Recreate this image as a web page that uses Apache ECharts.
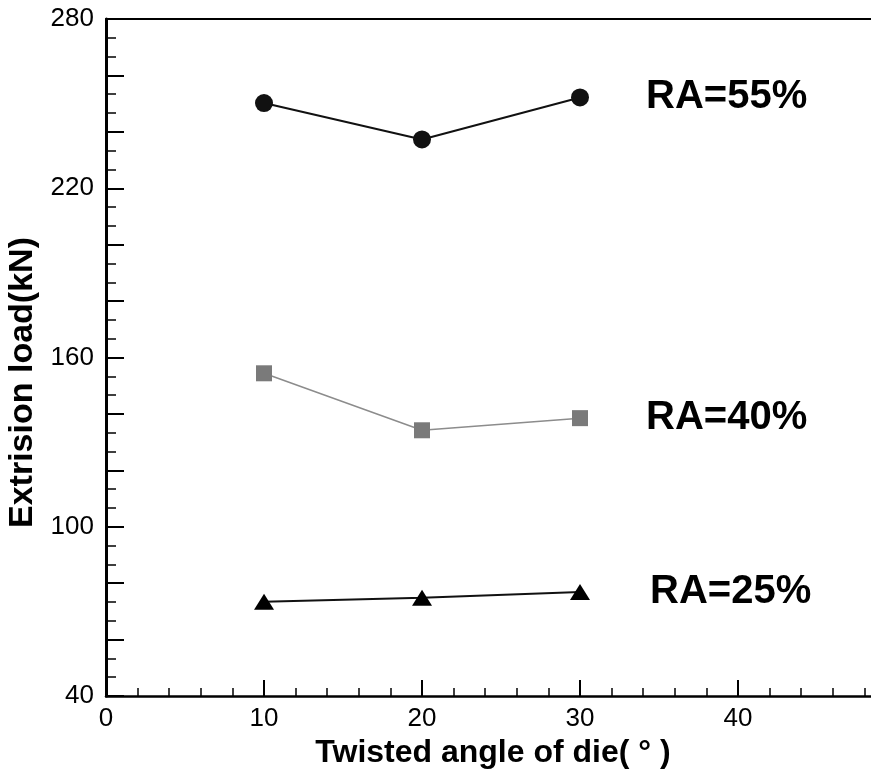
<!DOCTYPE html>
<html>
<head>
<meta charset="utf-8">
<script src="https://cdn.jsdelivr.net/npm/echarts@6/dist/echarts.min.js"></script>
<style>
  html, body { margin: 0; padding: 0; background: #fff; }
  #main { width: 871px; height: 773px; }
</style>
</head>
<body>
<div id="main"></div>
<script>
// twisted angle of die (deg)
var angles = [10, 20, 30];
// extrusion load (kN) for each reduction in area
var ra55 = [250.2, 237.3, 252.2];
var ra40 = [154.4, 134.2, 138.5];
var ra25 = [73.4, 74.8, 76.9];
// y labels shown on the axis
var yLabels = [40, 100, 160, 220, 280];

var FONT = '"Liberation Sans", Arial, sans-serif';

function pairs(ys) {
    return angles.map(function (a, i) { return [a, ys[i]]; });
}

var chart = echarts.init(document.getElementById('main'));

var endLbl = {
    show: true,
    formatter: '{a}',
    distance: 66,
    color: '#000',
    fontSize: 40,
    fontWeight: 'bold',
    fontFamily: FONT
};

option = {
    animation: false,
    backgroundColor: '#fff',
    grid: {
        left: 106,
        top: 19,
        right: -25,
        bottom: 77,
        outerBoundsMode: 'none'
    },
    xAxis: [
        {
            type: 'value',
            min: 0,
            max: 50,
            interval: 10,
            name: 'Twisted angle of die( ° )',
            nameLocation: 'middle',
            nameGap: 40,
            nameTextStyle: {
                color: '#000', fontSize: 32, fontWeight: 'bold', fontFamily: FONT,
                padding: [0, 16, 0, 0]
            },
            axisLine: { show: true, lineStyle: { color: '#000', width: 2.5 } },
            axisTick: { inside: true, length: 16, lineStyle: { color: '#000', width: 2 } },
            minorTick: { show: true, splitNumber: 5, length: 8, lineStyle: { color: '#000', width: 1.5 } },
            axisLabel: { color: '#000', fontSize: 26, fontFamily: FONT, margin: 10 },
            splitLine: { show: false }
        },
        {
            // top frame line
            type: 'value',
            position: 'top',
            min: 0,
            max: 50,
            axisLine: { show: true, lineStyle: { color: '#000', width: 2 } },
            axisTick: { show: false },
            axisLabel: { show: false },
            splitLine: { show: false }
        }
    ],
    yAxis: {
        type: 'value',
        min: 40,
        max: 280,
        interval: 20,
        name: 'Extrision load(kN)',
        nameLocation: 'middle',
        nameGap: 64,
        nameTextStyle: {
            color: '#000', fontSize: 34, fontWeight: 'bold', fontFamily: FONT,
            padding: [0, 50, 0, 0]
        },
        axisLine: { show: true, lineStyle: { color: '#000', width: 3 } },
        axisTick: { inside: true, length: 18, lineStyle: { color: '#000', width: 2 } },
        minorTick: { show: true, splitNumber: 3, length: 10, lineStyle: { color: '#000', width: 1.5 } },
        axisLabel: {
            color: '#000', fontSize: 26, fontFamily: FONT, margin: 12,
            formatter: function (v) { return yLabels.indexOf(v) >= 0 ? String(v) : ''; }
        },
        splitLine: { show: false }
    },
    series: [
        {
            name: 'RA=55%',
            type: 'line',
            data: pairs(ra55),
            symbol: 'circle',
            symbolSize: 18,
            itemStyle: { color: '#111' },
            lineStyle: { color: '#111', width: 2 },
            endLabel: endLbl
        },
        {
            name: 'RA=40%',
            type: 'line',
            data: pairs(ra40),
            symbol: 'rect',
            symbolSize: 16,
            itemStyle: { color: '#7a7a7a' },
            lineStyle: { color: '#8c8c8c', width: 1.5 },
            endLabel: endLbl
        },
        {
            name: 'RA=25%',
            type: 'line',
            data: pairs(ra25),
            symbol: 'triangle',
            symbolSize: [20, 16],
            itemStyle: { color: '#000' },
            lineStyle: { color: '#111', width: 2 },
            endLabel: Object.assign({}, endLbl, { distance: 70 })
        }
    ]
};

chart.setOption(option);
</script>
</body>
</html>
